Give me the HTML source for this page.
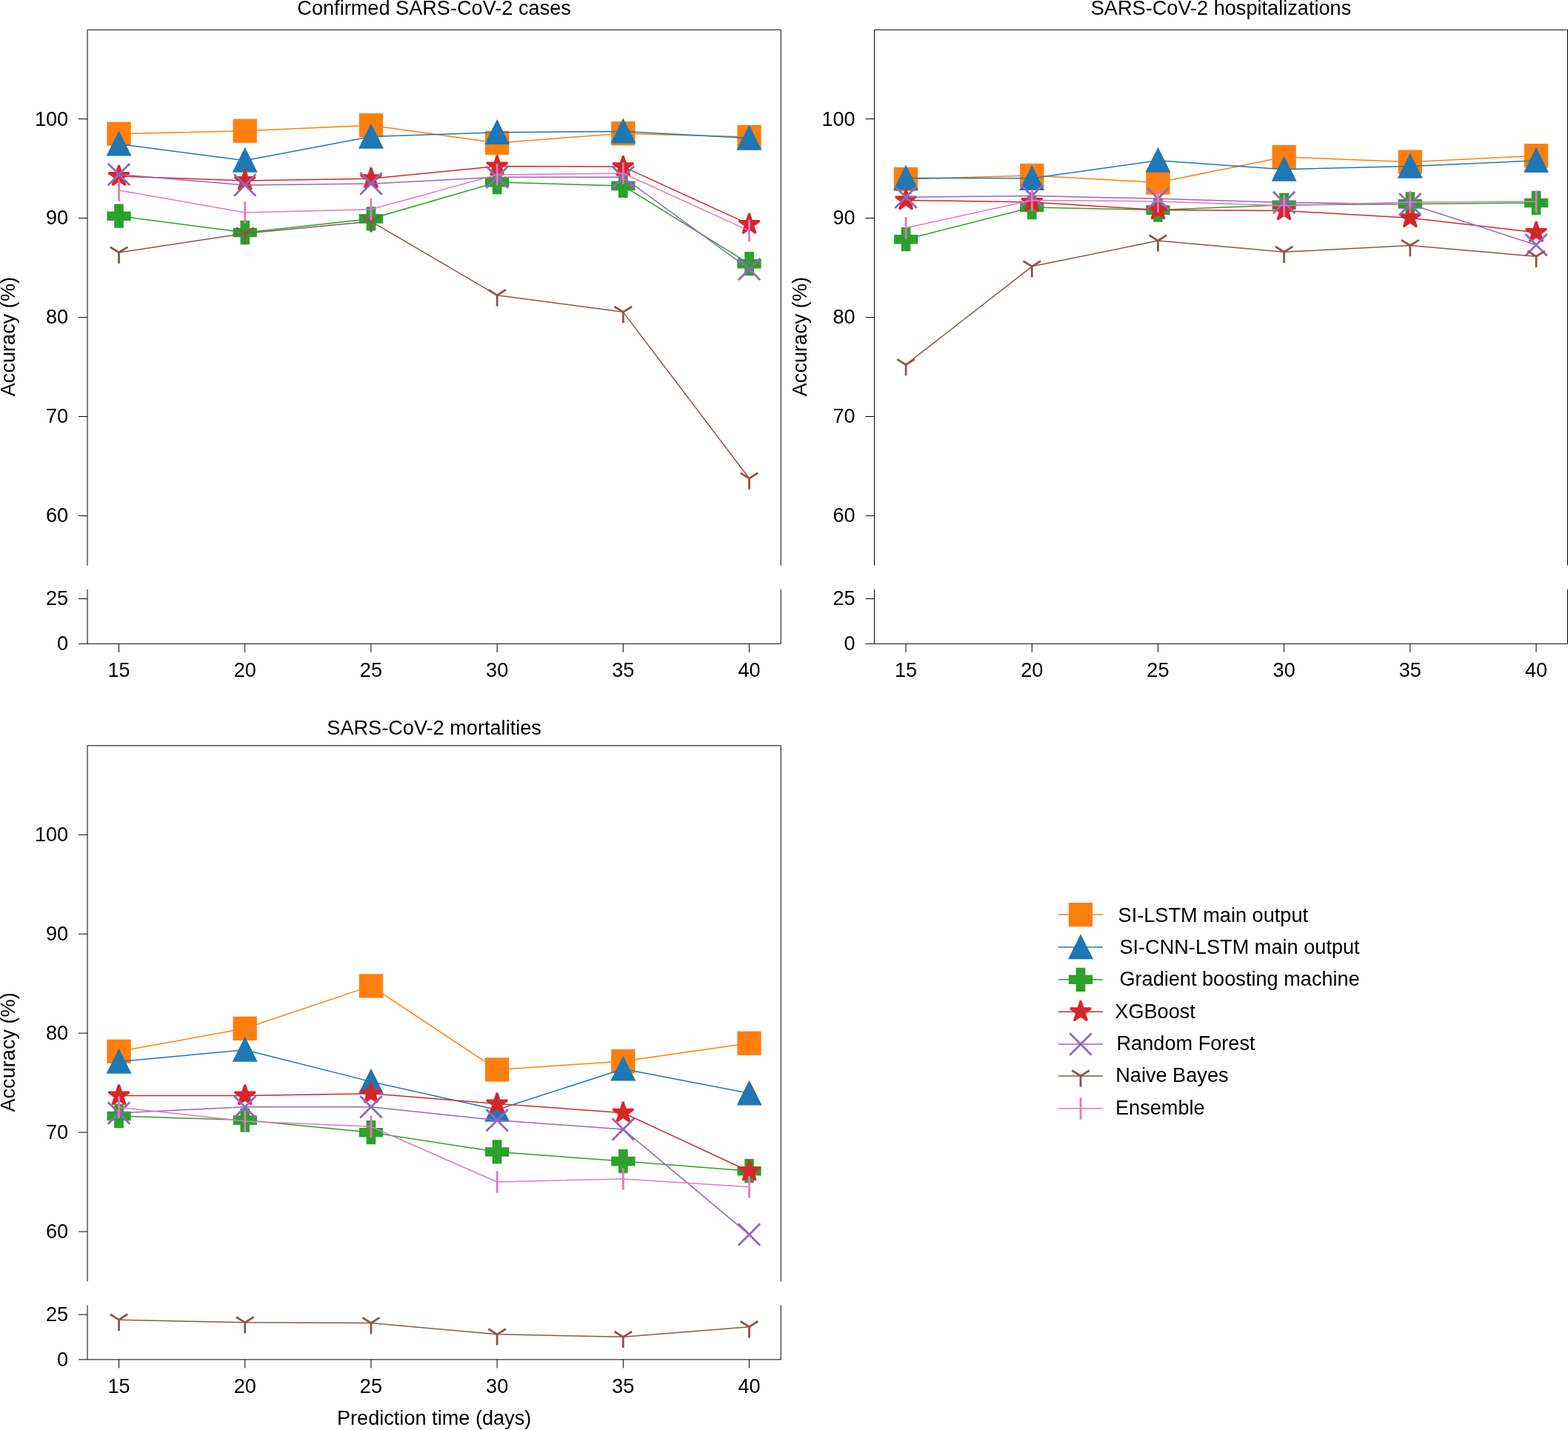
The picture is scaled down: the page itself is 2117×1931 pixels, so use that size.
<!DOCTYPE html>
<html><head><meta charset="utf-8"><title>Accuracy vs prediction time</title>
<style>html,body{margin:0;padding:0;background:#fff;overflow:hidden}svg{display:block}</style>
</head><body>
<svg width="2117" height="1931" viewBox="0 0 2117 1931">
<rect width="2117" height="1931" fill="#fff"/>
<g stroke="#000" stroke-width="1.0" fill="none" stroke-linecap="butt">
<path d="M118 763.7L118 40.25L1054.25 40.25L1054.25 763.7"/>
<path d="M118 796L118 869.28L1054.25 869.28L1054.25 796"/>
</g>
<g stroke="#000" stroke-width="1.0" fill="none">
<path d="M106 696.5H118"/>
<path d="M106 562.52H118"/>
<path d="M106 428.55H118"/>
<path d="M106 294.58H118"/>
<path d="M106 160.6H118"/>
<path d="M106 869.28H118"/>
<path d="M106 808.55H118"/>
<path d="M160.55 869.28V880.78"/>
<path d="M330.75 869.28V880.78"/>
<path d="M500.95 869.28V880.78"/>
<path d="M671.15 869.28V880.78"/>
<path d="M841.35 869.28V880.78"/>
<path d="M1011.55 869.28V880.78"/>
</g>
<g font-family="'Liberation Sans', Arial, Helvetica, sans-serif" font-size="27.15" fill="#000">
<text x="92.2" y="705.4" text-anchor="end">60</text>
<text x="92.2" y="571.42" text-anchor="end">70</text>
<text x="92.2" y="437.45" text-anchor="end">80</text>
<text x="92.2" y="303.48" text-anchor="end">90</text>
<text x="92.2" y="169.5" text-anchor="end">100</text>
<text x="92.2" y="878.18" text-anchor="end">0</text>
<text x="92.2" y="817.45" text-anchor="end">25</text>
<text x="160.55" y="913.9" text-anchor="middle">15</text>
<text x="330.75" y="913.9" text-anchor="middle">20</text>
<text x="500.95" y="913.9" text-anchor="middle">25</text>
<text x="671.15" y="913.9" text-anchor="middle">30</text>
<text x="841.35" y="913.9" text-anchor="middle">35</text>
<text x="1011.55" y="913.9" text-anchor="middle">40</text>
<text x="586.12" y="19.8" text-anchor="middle">Confirmed SARS-CoV-2 cases</text>
<text transform="translate(19.6 454.6) rotate(-90)" text-anchor="middle">Accuracy (%)</text>
</g>
<polyline points="160.55,180.8 330.75,176.7 500.95,169.2 671.15,192.9 841.35,180.2 1011.55,185" fill="none" stroke="#ff7f0e" stroke-width="1.5" stroke-linejoin="round" stroke-linecap="butt"/>
<rect x="145.8" y="166.05" width="29.5" height="29.5" fill="#ff7f0e" stroke="#ff7f0e" stroke-width="2.8" stroke-linejoin="miter"/>
<rect x="316" y="161.95" width="29.5" height="29.5" fill="#ff7f0e" stroke="#ff7f0e" stroke-width="2.8" stroke-linejoin="miter"/>
<rect x="486.2" y="154.45" width="29.5" height="29.5" fill="#ff7f0e" stroke="#ff7f0e" stroke-width="2.8" stroke-linejoin="miter"/>
<rect x="656.4" y="178.15" width="29.5" height="29.5" fill="#ff7f0e" stroke="#ff7f0e" stroke-width="2.8" stroke-linejoin="miter"/>
<rect x="826.6" y="165.45" width="29.5" height="29.5" fill="#ff7f0e" stroke="#ff7f0e" stroke-width="2.8" stroke-linejoin="miter"/>
<rect x="996.8" y="170.25" width="29.5" height="29.5" fill="#ff7f0e" stroke="#ff7f0e" stroke-width="2.8" stroke-linejoin="miter"/>
<polyline points="160.55,194.47 330.75,216.67 500.95,184.57 671.15,178.77 841.35,177.47 1011.55,186.62" fill="none" stroke="#1f77b4" stroke-width="1.5" stroke-linejoin="round" stroke-linecap="butt"/>
<polygon points="160.55,179.72 145.8,209.22 175.3,209.22" fill="#1f77b4" stroke="#1f77b4" stroke-width="2.8" stroke-linejoin="miter"/>
<polygon points="330.75,201.92 316,231.42 345.5,231.42" fill="#1f77b4" stroke="#1f77b4" stroke-width="2.8" stroke-linejoin="miter"/>
<polygon points="500.95,169.82 486.2,199.32 515.7,199.32" fill="#1f77b4" stroke="#1f77b4" stroke-width="2.8" stroke-linejoin="miter"/>
<polygon points="671.15,164.02 656.4,193.52 685.9,193.52" fill="#1f77b4" stroke="#1f77b4" stroke-width="2.8" stroke-linejoin="miter"/>
<polygon points="841.35,162.72 826.6,192.22 856.1,192.22" fill="#1f77b4" stroke="#1f77b4" stroke-width="2.8" stroke-linejoin="miter"/>
<polygon points="1011.55,171.87 996.8,201.37 1026.3,201.37" fill="#1f77b4" stroke="#1f77b4" stroke-width="2.8" stroke-linejoin="miter"/>
<polyline points="160.55,291.7 330.75,314 500.95,295.4 671.15,246.1 841.35,250.9 1011.55,356.2" fill="none" stroke="#2ca02c" stroke-width="1.5" stroke-linejoin="round" stroke-linecap="butt"/>
<polygon points="155.63,276.95 165.47,276.95 165.47,286.78 175.3,286.78 175.3,296.62 165.47,296.62 165.47,306.45 155.63,306.45 155.63,296.62 145.8,296.62 145.8,286.78 155.63,286.78" fill="#2ca02c" stroke="#2ca02c" stroke-width="2.8" stroke-linejoin="miter"/>
<polygon points="325.83,299.25 335.67,299.25 335.67,309.08 345.5,309.08 345.5,318.92 335.67,318.92 335.67,328.75 325.83,328.75 325.83,318.92 316,318.92 316,309.08 325.83,309.08" fill="#2ca02c" stroke="#2ca02c" stroke-width="2.8" stroke-linejoin="miter"/>
<polygon points="496.03,280.65 505.87,280.65 505.87,290.48 515.7,290.48 515.7,300.32 505.87,300.32 505.87,310.15 496.03,310.15 496.03,300.32 486.2,300.32 486.2,290.48 496.03,290.48" fill="#2ca02c" stroke="#2ca02c" stroke-width="2.8" stroke-linejoin="miter"/>
<polygon points="666.23,231.35 676.07,231.35 676.07,241.18 685.9,241.18 685.9,251.02 676.07,251.02 676.07,260.85 666.23,260.85 666.23,251.02 656.4,251.02 656.4,241.18 666.23,241.18" fill="#2ca02c" stroke="#2ca02c" stroke-width="2.8" stroke-linejoin="miter"/>
<polygon points="836.43,236.15 846.27,236.15 846.27,245.98 856.1,245.98 856.1,255.82 846.27,255.82 846.27,265.65 836.43,265.65 836.43,255.82 826.6,255.82 826.6,245.98 836.43,245.98" fill="#2ca02c" stroke="#2ca02c" stroke-width="2.8" stroke-linejoin="miter"/>
<polygon points="1006.63,341.45 1016.47,341.45 1016.47,351.28 1026.3,351.28 1026.3,361.12 1016.47,361.12 1016.47,370.95 1006.63,370.95 1006.63,361.12 996.8,361.12 996.8,351.28 1006.63,351.28" fill="#2ca02c" stroke="#2ca02c" stroke-width="2.8" stroke-linejoin="miter"/>
<polyline points="160.55,238 330.75,244 500.95,241.2 671.15,224.4 841.35,225.1 1011.55,302.9" fill="none" stroke="#d62728" stroke-width="1.5" stroke-linejoin="round" stroke-linecap="butt"/>
<polygon points="160.55,223.25 157.24,233.44 146.52,233.44 155.19,239.74 151.88,249.93 160.55,243.63 169.22,249.93 165.91,239.74 174.58,233.44 163.86,233.44" fill="#d62728" stroke="#d62728" stroke-width="2.8" stroke-linejoin="bevel"/>
<polygon points="330.75,229.25 327.44,239.44 316.72,239.44 325.39,245.74 322.08,255.93 330.75,249.63 339.42,255.93 336.11,245.74 344.78,239.44 334.06,239.44" fill="#d62728" stroke="#d62728" stroke-width="2.8" stroke-linejoin="bevel"/>
<polygon points="500.95,226.45 497.64,236.64 486.92,236.64 495.59,242.94 492.28,253.13 500.95,246.83 509.62,253.13 506.31,242.94 514.98,236.64 504.26,236.64" fill="#d62728" stroke="#d62728" stroke-width="2.8" stroke-linejoin="bevel"/>
<polygon points="671.15,209.65 667.84,219.84 657.12,219.84 665.79,226.14 662.48,236.33 671.15,230.03 679.82,236.33 676.51,226.14 685.18,219.84 674.46,219.84" fill="#d62728" stroke="#d62728" stroke-width="2.8" stroke-linejoin="bevel"/>
<polygon points="841.35,210.35 838.04,220.54 827.32,220.54 835.99,226.84 832.68,237.03 841.35,230.73 850.02,237.03 846.71,226.84 855.38,220.54 844.66,220.54" fill="#d62728" stroke="#d62728" stroke-width="2.8" stroke-linejoin="bevel"/>
<polygon points="1011.55,288.15 1008.24,298.34 997.52,298.34 1006.19,304.64 1002.88,314.83 1011.55,308.53 1020.22,314.83 1016.91,304.64 1025.58,298.34 1014.86,298.34" fill="#d62728" stroke="#d62728" stroke-width="2.8" stroke-linejoin="bevel"/>
<polyline points="160.55,235.6 330.75,250 500.95,248 671.15,239.3 841.35,239.3 1011.55,363.4" fill="none" stroke="#9467bd" stroke-width="1.5" stroke-linejoin="round" stroke-linecap="butt"/>
<path d="M145.8 220.85L175.3 250.35M145.8 250.35L175.3 220.85" stroke="#9467bd" stroke-width="2.8" fill="none" stroke-linecap="butt"/>
<path d="M316 235.25L345.5 264.75M316 264.75L345.5 235.25" stroke="#9467bd" stroke-width="2.8" fill="none" stroke-linecap="butt"/>
<path d="M486.2 233.25L515.7 262.75M486.2 262.75L515.7 233.25" stroke="#9467bd" stroke-width="2.8" fill="none" stroke-linecap="butt"/>
<path d="M656.4 224.55L685.9 254.05M656.4 254.05L685.9 224.55" stroke="#9467bd" stroke-width="2.8" fill="none" stroke-linecap="butt"/>
<path d="M826.6 224.55L856.1 254.05M826.6 254.05L856.1 224.55" stroke="#9467bd" stroke-width="2.8" fill="none" stroke-linecap="butt"/>
<path d="M996.8 348.65L1026.3 378.15M996.8 378.15L1026.3 348.65" stroke="#9467bd" stroke-width="2.8" fill="none" stroke-linecap="butt"/>
<polyline points="160.55,340.95 330.75,315.15 500.95,299.05 671.15,398.65 841.35,421.35 1011.55,645.95" fill="none" stroke="#8c564b" stroke-width="1.5" stroke-linejoin="round" stroke-linecap="butt"/>
<path d="M160.55 340.95L160.55 355.7M160.55 340.95L148.75 333.57M160.55 340.95L172.35 333.57" stroke="#8c564b" stroke-width="2.8" fill="none" stroke-linecap="butt" stroke-linejoin="miter"/>
<path d="M330.75 315.15L330.75 329.9M330.75 315.15L318.95 307.77M330.75 315.15L342.55 307.77" stroke="#8c564b" stroke-width="2.8" fill="none" stroke-linecap="butt" stroke-linejoin="miter"/>
<path d="M500.95 299.05L500.95 313.8M500.95 299.05L489.15 291.68M500.95 299.05L512.75 291.68" stroke="#8c564b" stroke-width="2.8" fill="none" stroke-linecap="butt" stroke-linejoin="miter"/>
<path d="M671.15 398.65L671.15 413.4M671.15 398.65L659.35 391.27M671.15 398.65L682.95 391.27" stroke="#8c564b" stroke-width="2.8" fill="none" stroke-linecap="butt" stroke-linejoin="miter"/>
<path d="M841.35 421.35L841.35 436.1M841.35 421.35L829.55 413.98M841.35 421.35L853.15 413.98" stroke="#8c564b" stroke-width="2.8" fill="none" stroke-linecap="butt" stroke-linejoin="miter"/>
<path d="M1011.55 645.95L1011.55 660.7M1011.55 645.95L999.75 638.58M1011.55 645.95L1023.35 638.58" stroke="#8c564b" stroke-width="2.8" fill="none" stroke-linecap="butt" stroke-linejoin="miter"/>
<polyline points="160.55,257 330.75,286.9 500.95,282.7 671.15,235.9 841.35,234 1011.55,311.6" fill="none" stroke="#e377c2" stroke-width="1.5" stroke-linejoin="round" stroke-linecap="butt"/>
<path d="M160.55 242.25L160.55 271.75" stroke="#e377c2" stroke-width="2.8" fill="none" stroke-linecap="butt"/>
<path d="M330.75 272.15L330.75 301.65" stroke="#e377c2" stroke-width="2.8" fill="none" stroke-linecap="butt"/>
<path d="M500.95 267.95L500.95 297.45" stroke="#e377c2" stroke-width="2.8" fill="none" stroke-linecap="butt"/>
<path d="M671.15 221.15L671.15 250.65" stroke="#e377c2" stroke-width="2.8" fill="none" stroke-linecap="butt"/>
<path d="M841.35 219.25L841.35 248.75" stroke="#e377c2" stroke-width="2.8" fill="none" stroke-linecap="butt"/>
<path d="M1011.55 296.85L1011.55 326.35" stroke="#e377c2" stroke-width="2.8" fill="none" stroke-linecap="butt"/>
<g stroke="#000" stroke-width="1.0" fill="none" stroke-linecap="butt">
<path d="M1180.5 763.7L1180.5 40.25L2116.5 40.25L2116.5 763.7"/>
<path d="M1180.5 796L1180.5 869.28L2116.5 869.28L2116.5 796"/>
</g>
<g stroke="#000" stroke-width="1.0" fill="none">
<path d="M1168.5 696.5H1180.5"/>
<path d="M1168.5 562.52H1180.5"/>
<path d="M1168.5 428.55H1180.5"/>
<path d="M1168.5 294.58H1180.5"/>
<path d="M1168.5 160.6H1180.5"/>
<path d="M1168.5 869.28H1180.5"/>
<path d="M1168.5 808.55H1180.5"/>
<path d="M1223.05 869.28V880.78"/>
<path d="M1393.25 869.28V880.78"/>
<path d="M1563.45 869.28V880.78"/>
<path d="M1733.65 869.28V880.78"/>
<path d="M1903.85 869.28V880.78"/>
<path d="M2074.05 869.28V880.78"/>
</g>
<g font-family="'Liberation Sans', Arial, Helvetica, sans-serif" font-size="27.15" fill="#000">
<text x="1154.7" y="705.4" text-anchor="end">60</text>
<text x="1154.7" y="571.42" text-anchor="end">70</text>
<text x="1154.7" y="437.45" text-anchor="end">80</text>
<text x="1154.7" y="303.48" text-anchor="end">90</text>
<text x="1154.7" y="169.5" text-anchor="end">100</text>
<text x="1154.7" y="878.18" text-anchor="end">0</text>
<text x="1154.7" y="817.45" text-anchor="end">25</text>
<text x="1223.05" y="913.9" text-anchor="middle">15</text>
<text x="1393.25" y="913.9" text-anchor="middle">20</text>
<text x="1563.45" y="913.9" text-anchor="middle">25</text>
<text x="1733.65" y="913.9" text-anchor="middle">30</text>
<text x="1903.85" y="913.9" text-anchor="middle">35</text>
<text x="2074.05" y="913.9" text-anchor="middle">40</text>
<text x="1648.5" y="19.8" text-anchor="middle">SARS-CoV-2 hospitalizations</text>
<text transform="translate(1088.8 454.6) rotate(-90)" text-anchor="middle">Accuracy (%)</text>
</g>
<polyline points="1223.05,241.9 1393.25,237 1563.45,246.5 1733.65,212 1903.85,218.65 2074.05,210.2" fill="none" stroke="#ff7f0e" stroke-width="1.5" stroke-linejoin="round" stroke-linecap="butt"/>
<rect x="1208.3" y="227.15" width="29.5" height="29.5" fill="#ff7f0e" stroke="#ff7f0e" stroke-width="2.8" stroke-linejoin="miter"/>
<rect x="1378.5" y="222.25" width="29.5" height="29.5" fill="#ff7f0e" stroke="#ff7f0e" stroke-width="2.8" stroke-linejoin="miter"/>
<rect x="1548.7" y="231.75" width="29.5" height="29.5" fill="#ff7f0e" stroke="#ff7f0e" stroke-width="2.8" stroke-linejoin="miter"/>
<rect x="1718.9" y="197.25" width="29.5" height="29.5" fill="#ff7f0e" stroke="#ff7f0e" stroke-width="2.8" stroke-linejoin="miter"/>
<rect x="1889.1" y="203.9" width="29.5" height="29.5" fill="#ff7f0e" stroke="#ff7f0e" stroke-width="2.8" stroke-linejoin="miter"/>
<rect x="2059.3" y="195.45" width="29.5" height="29.5" fill="#ff7f0e" stroke="#ff7f0e" stroke-width="2.8" stroke-linejoin="miter"/>
<polyline points="1223.05,240.47 1393.25,240.77 1563.45,216.67 1733.65,228.67 1903.85,224.57 2074.05,216.87" fill="none" stroke="#1f77b4" stroke-width="1.5" stroke-linejoin="round" stroke-linecap="butt"/>
<polygon points="1223.05,225.72 1208.3,255.22 1237.8,255.22" fill="#1f77b4" stroke="#1f77b4" stroke-width="2.8" stroke-linejoin="miter"/>
<polygon points="1393.25,226.02 1378.5,255.52 1408,255.52" fill="#1f77b4" stroke="#1f77b4" stroke-width="2.8" stroke-linejoin="miter"/>
<polygon points="1563.45,201.92 1548.7,231.42 1578.2,231.42" fill="#1f77b4" stroke="#1f77b4" stroke-width="2.8" stroke-linejoin="miter"/>
<polygon points="1733.65,213.92 1718.9,243.42 1748.4,243.42" fill="#1f77b4" stroke="#1f77b4" stroke-width="2.8" stroke-linejoin="miter"/>
<polygon points="1903.85,209.82 1889.1,239.32 1918.6,239.32" fill="#1f77b4" stroke="#1f77b4" stroke-width="2.8" stroke-linejoin="miter"/>
<polygon points="2074.05,202.12 2059.3,231.62 2088.8,231.62" fill="#1f77b4" stroke="#1f77b4" stroke-width="2.8" stroke-linejoin="miter"/>
<polyline points="1223.05,323.2 1393.25,280 1563.45,283.6 1733.65,276.8 1903.85,275.4 2074.05,274" fill="none" stroke="#2ca02c" stroke-width="1.5" stroke-linejoin="round" stroke-linecap="butt"/>
<polygon points="1218.13,308.45 1227.97,308.45 1227.97,318.28 1237.8,318.28 1237.8,328.12 1227.97,328.12 1227.97,337.95 1218.13,337.95 1218.13,328.12 1208.3,328.12 1208.3,318.28 1218.13,318.28" fill="#2ca02c" stroke="#2ca02c" stroke-width="2.8" stroke-linejoin="miter"/>
<polygon points="1388.33,265.25 1398.17,265.25 1398.17,275.08 1408,275.08 1408,284.92 1398.17,284.92 1398.17,294.75 1388.33,294.75 1388.33,284.92 1378.5,284.92 1378.5,275.08 1388.33,275.08" fill="#2ca02c" stroke="#2ca02c" stroke-width="2.8" stroke-linejoin="miter"/>
<polygon points="1558.53,268.85 1568.37,268.85 1568.37,278.68 1578.2,278.68 1578.2,288.52 1568.37,288.52 1568.37,298.35 1558.53,298.35 1558.53,288.52 1548.7,288.52 1548.7,278.68 1558.53,278.68" fill="#2ca02c" stroke="#2ca02c" stroke-width="2.8" stroke-linejoin="miter"/>
<polygon points="1728.73,262.05 1738.57,262.05 1738.57,271.88 1748.4,271.88 1748.4,281.72 1738.57,281.72 1738.57,291.55 1728.73,291.55 1728.73,281.72 1718.9,281.72 1718.9,271.88 1728.73,271.88" fill="#2ca02c" stroke="#2ca02c" stroke-width="2.8" stroke-linejoin="miter"/>
<polygon points="1898.93,260.65 1908.77,260.65 1908.77,270.48 1918.6,270.48 1918.6,280.32 1908.77,280.32 1908.77,290.15 1898.93,290.15 1898.93,280.32 1889.1,280.32 1889.1,270.48 1898.93,270.48" fill="#2ca02c" stroke="#2ca02c" stroke-width="2.8" stroke-linejoin="miter"/>
<polygon points="2069.13,259.25 2078.97,259.25 2078.97,269.08 2088.8,269.08 2088.8,278.92 2078.97,278.92 2078.97,288.75 2069.13,288.75 2069.13,278.92 2059.3,278.92 2059.3,269.08 2069.13,269.08" fill="#2ca02c" stroke="#2ca02c" stroke-width="2.8" stroke-linejoin="miter"/>
<polyline points="1223.05,270.4 1393.25,273 1563.45,283.5 1733.65,284.5 1903.85,294.2 2074.05,314" fill="none" stroke="#d62728" stroke-width="1.5" stroke-linejoin="round" stroke-linecap="butt"/>
<polygon points="1223.05,255.65 1219.74,265.84 1209.02,265.84 1217.69,272.14 1214.38,282.33 1223.05,276.03 1231.72,282.33 1228.41,272.14 1237.08,265.84 1226.36,265.84" fill="#d62728" stroke="#d62728" stroke-width="2.8" stroke-linejoin="bevel"/>
<polygon points="1393.25,258.25 1389.94,268.44 1379.22,268.44 1387.89,274.74 1384.58,284.93 1393.25,278.63 1401.92,284.93 1398.61,274.74 1407.28,268.44 1396.56,268.44" fill="#d62728" stroke="#d62728" stroke-width="2.8" stroke-linejoin="bevel"/>
<polygon points="1563.45,268.75 1560.14,278.94 1549.42,278.94 1558.09,285.24 1554.78,295.43 1563.45,289.13 1572.12,295.43 1568.81,285.24 1577.48,278.94 1566.76,278.94" fill="#d62728" stroke="#d62728" stroke-width="2.8" stroke-linejoin="bevel"/>
<polygon points="1733.65,269.75 1730.34,279.94 1719.62,279.94 1728.29,286.24 1724.98,296.43 1733.65,290.13 1742.32,296.43 1739.01,286.24 1747.68,279.94 1736.96,279.94" fill="#d62728" stroke="#d62728" stroke-width="2.8" stroke-linejoin="bevel"/>
<polygon points="1903.85,279.45 1900.54,289.64 1889.82,289.64 1898.49,295.94 1895.18,306.13 1903.85,299.83 1912.52,306.13 1909.21,295.94 1917.88,289.64 1907.16,289.64" fill="#d62728" stroke="#d62728" stroke-width="2.8" stroke-linejoin="bevel"/>
<polygon points="2074.05,299.25 2070.74,309.44 2060.02,309.44 2068.69,315.74 2065.38,325.93 2074.05,319.63 2082.72,325.93 2079.41,315.74 2088.08,309.44 2077.36,309.44" fill="#d62728" stroke="#d62728" stroke-width="2.8" stroke-linejoin="bevel"/>
<polyline points="1223.05,266.3 1393.25,264.6 1563.45,268.2 1733.65,273.4 1903.85,275.7 2074.05,330.8" fill="none" stroke="#9467bd" stroke-width="1.5" stroke-linejoin="round" stroke-linecap="butt"/>
<path d="M1208.3 251.55L1237.8 281.05M1208.3 281.05L1237.8 251.55" stroke="#9467bd" stroke-width="2.8" fill="none" stroke-linecap="butt"/>
<path d="M1378.5 249.85L1408 279.35M1378.5 279.35L1408 249.85" stroke="#9467bd" stroke-width="2.8" fill="none" stroke-linecap="butt"/>
<path d="M1548.7 253.45L1578.2 282.95M1548.7 282.95L1578.2 253.45" stroke="#9467bd" stroke-width="2.8" fill="none" stroke-linecap="butt"/>
<path d="M1718.9 258.65L1748.4 288.15M1718.9 288.15L1748.4 258.65" stroke="#9467bd" stroke-width="2.8" fill="none" stroke-linecap="butt"/>
<path d="M1889.1 260.95L1918.6 290.45M1889.1 290.45L1918.6 260.95" stroke="#9467bd" stroke-width="2.8" fill="none" stroke-linecap="butt"/>
<path d="M2059.3 316.05L2088.8 345.55M2059.3 345.55L2088.8 316.05" stroke="#9467bd" stroke-width="2.8" fill="none" stroke-linecap="butt"/>
<polyline points="1223.05,492.45 1393.25,359.85 1563.45,325.05 1733.65,340.25 1903.85,331.55 2074.05,346.3" fill="none" stroke="#8c564b" stroke-width="1.5" stroke-linejoin="round" stroke-linecap="butt"/>
<path d="M1223.05 492.45L1223.05 507.2M1223.05 492.45L1211.25 485.07M1223.05 492.45L1234.85 485.07" stroke="#8c564b" stroke-width="2.8" fill="none" stroke-linecap="butt" stroke-linejoin="miter"/>
<path d="M1393.25 359.85L1393.25 374.6M1393.25 359.85L1381.45 352.48M1393.25 359.85L1405.05 352.48" stroke="#8c564b" stroke-width="2.8" fill="none" stroke-linecap="butt" stroke-linejoin="miter"/>
<path d="M1563.45 325.05L1563.45 339.8M1563.45 325.05L1551.65 317.68M1563.45 325.05L1575.25 317.68" stroke="#8c564b" stroke-width="2.8" fill="none" stroke-linecap="butt" stroke-linejoin="miter"/>
<path d="M1733.65 340.25L1733.65 355M1733.65 340.25L1721.85 332.88M1733.65 340.25L1745.45 332.88" stroke="#8c564b" stroke-width="2.8" fill="none" stroke-linecap="butt" stroke-linejoin="miter"/>
<path d="M1903.85 331.55L1903.85 346.3M1903.85 331.55L1892.05 324.18M1903.85 331.55L1915.65 324.18" stroke="#8c564b" stroke-width="2.8" fill="none" stroke-linecap="butt" stroke-linejoin="miter"/>
<path d="M2074.05 346.3L2074.05 361.05M2074.05 346.3L2062.25 338.93M2074.05 346.3L2085.85 338.93" stroke="#8c564b" stroke-width="2.8" fill="none" stroke-linecap="butt" stroke-linejoin="miter"/>
<polyline points="1223.05,307.7 1393.25,270.5 1563.45,271.9 1733.65,277.8 1903.85,272.9 2074.05,272.2" fill="none" stroke="#e377c2" stroke-width="1.5" stroke-linejoin="round" stroke-linecap="butt"/>
<path d="M1223.05 292.95L1223.05 322.45" stroke="#e377c2" stroke-width="2.8" fill="none" stroke-linecap="butt"/>
<path d="M1393.25 255.75L1393.25 285.25" stroke="#e377c2" stroke-width="2.8" fill="none" stroke-linecap="butt"/>
<path d="M1563.45 257.15L1563.45 286.65" stroke="#e377c2" stroke-width="2.8" fill="none" stroke-linecap="butt"/>
<path d="M1733.65 263.05L1733.65 292.55" stroke="#e377c2" stroke-width="2.8" fill="none" stroke-linecap="butt"/>
<path d="M1903.85 258.15L1903.85 287.65" stroke="#e377c2" stroke-width="2.8" fill="none" stroke-linecap="butt"/>
<path d="M2074.05 257.45L2074.05 286.95" stroke="#e377c2" stroke-width="2.8" fill="none" stroke-linecap="butt"/>
<g stroke="#000" stroke-width="1.0" fill="none" stroke-linecap="butt">
<path d="M118 1730.3L118 1006.85L1054.25 1006.85L1054.25 1730.3"/>
<path d="M118 1762.6L118 1835.88L1054.25 1835.88L1054.25 1762.6"/>
</g>
<g stroke="#000" stroke-width="1.0" fill="none">
<path d="M106 1663.1H118"/>
<path d="M106 1529.12H118"/>
<path d="M106 1395.15H118"/>
<path d="M106 1261.18H118"/>
<path d="M106 1127.2H118"/>
<path d="M106 1835.88H118"/>
<path d="M106 1775.15H118"/>
<path d="M160.55 1835.88V1847.38"/>
<path d="M330.75 1835.88V1847.38"/>
<path d="M500.95 1835.88V1847.38"/>
<path d="M671.15 1835.88V1847.38"/>
<path d="M841.35 1835.88V1847.38"/>
<path d="M1011.55 1835.88V1847.38"/>
</g>
<g font-family="'Liberation Sans', Arial, Helvetica, sans-serif" font-size="27.15" fill="#000">
<text x="92.2" y="1672" text-anchor="end">60</text>
<text x="92.2" y="1538.03" text-anchor="end">70</text>
<text x="92.2" y="1404.05" text-anchor="end">80</text>
<text x="92.2" y="1270.08" text-anchor="end">90</text>
<text x="92.2" y="1136.1" text-anchor="end">100</text>
<text x="92.2" y="1844.78" text-anchor="end">0</text>
<text x="92.2" y="1784.06" text-anchor="end">25</text>
<text x="160.55" y="1880.5" text-anchor="middle">15</text>
<text x="330.75" y="1880.5" text-anchor="middle">20</text>
<text x="500.95" y="1880.5" text-anchor="middle">25</text>
<text x="671.15" y="1880.5" text-anchor="middle">30</text>
<text x="841.35" y="1880.5" text-anchor="middle">35</text>
<text x="1011.55" y="1880.5" text-anchor="middle">40</text>
<text x="586.12" y="992.4" text-anchor="middle">SARS-CoV-2 mortalities</text>
<text transform="translate(19.6 1420.9) rotate(-90)" text-anchor="middle">Accuracy (%)</text>
<text x="586.12" y="1924" text-anchor="middle">Prediction time (days)</text>
</g>
<polyline points="160.55,1419.85 330.75,1388.8 500.95,1331.4 671.15,1444.4 841.35,1433.1 1011.55,1408.7" fill="none" stroke="#ff7f0e" stroke-width="1.5" stroke-linejoin="round" stroke-linecap="butt"/>
<rect x="145.8" y="1405.1" width="29.5" height="29.5" fill="#ff7f0e" stroke="#ff7f0e" stroke-width="2.8" stroke-linejoin="miter"/>
<rect x="316" y="1374.05" width="29.5" height="29.5" fill="#ff7f0e" stroke="#ff7f0e" stroke-width="2.8" stroke-linejoin="miter"/>
<rect x="486.2" y="1316.65" width="29.5" height="29.5" fill="#ff7f0e" stroke="#ff7f0e" stroke-width="2.8" stroke-linejoin="miter"/>
<rect x="656.4" y="1429.65" width="29.5" height="29.5" fill="#ff7f0e" stroke="#ff7f0e" stroke-width="2.8" stroke-linejoin="miter"/>
<rect x="826.6" y="1418.35" width="29.5" height="29.5" fill="#ff7f0e" stroke="#ff7f0e" stroke-width="2.8" stroke-linejoin="miter"/>
<rect x="996.8" y="1393.95" width="29.5" height="29.5" fill="#ff7f0e" stroke="#ff7f0e" stroke-width="2.8" stroke-linejoin="miter"/>
<polyline points="160.55,1433.62 330.75,1417.67 500.95,1460.62 671.15,1498.57 841.35,1443.47 1011.55,1476.27" fill="none" stroke="#1f77b4" stroke-width="1.5" stroke-linejoin="round" stroke-linecap="butt"/>
<polygon points="160.55,1418.87 145.8,1448.37 175.3,1448.37" fill="#1f77b4" stroke="#1f77b4" stroke-width="2.8" stroke-linejoin="miter"/>
<polygon points="330.75,1402.92 316,1432.42 345.5,1432.42" fill="#1f77b4" stroke="#1f77b4" stroke-width="2.8" stroke-linejoin="miter"/>
<polygon points="500.95,1445.87 486.2,1475.37 515.7,1475.37" fill="#1f77b4" stroke="#1f77b4" stroke-width="2.8" stroke-linejoin="miter"/>
<polygon points="671.15,1483.82 656.4,1513.32 685.9,1513.32" fill="#1f77b4" stroke="#1f77b4" stroke-width="2.8" stroke-linejoin="miter"/>
<polygon points="841.35,1428.72 826.6,1458.22 856.1,1458.22" fill="#1f77b4" stroke="#1f77b4" stroke-width="2.8" stroke-linejoin="miter"/>
<polygon points="1011.55,1461.52 996.8,1491.02 1026.3,1491.02" fill="#1f77b4" stroke="#1f77b4" stroke-width="2.8" stroke-linejoin="miter"/>
<polyline points="160.55,1507 330.75,1512.6 500.95,1529.2 671.15,1555.45 841.35,1568.1 1011.55,1581.2" fill="none" stroke="#2ca02c" stroke-width="1.5" stroke-linejoin="round" stroke-linecap="butt"/>
<polygon points="155.63,1492.25 165.47,1492.25 165.47,1502.08 175.3,1502.08 175.3,1511.92 165.47,1511.92 165.47,1521.75 155.63,1521.75 155.63,1511.92 145.8,1511.92 145.8,1502.08 155.63,1502.08" fill="#2ca02c" stroke="#2ca02c" stroke-width="2.8" stroke-linejoin="miter"/>
<polygon points="325.83,1497.85 335.67,1497.85 335.67,1507.68 345.5,1507.68 345.5,1517.52 335.67,1517.52 335.67,1527.35 325.83,1527.35 325.83,1517.52 316,1517.52 316,1507.68 325.83,1507.68" fill="#2ca02c" stroke="#2ca02c" stroke-width="2.8" stroke-linejoin="miter"/>
<polygon points="496.03,1514.45 505.87,1514.45 505.87,1524.28 515.7,1524.28 515.7,1534.12 505.87,1534.12 505.87,1543.95 496.03,1543.95 496.03,1534.12 486.2,1534.12 486.2,1524.28 496.03,1524.28" fill="#2ca02c" stroke="#2ca02c" stroke-width="2.8" stroke-linejoin="miter"/>
<polygon points="666.23,1540.7 676.07,1540.7 676.07,1550.53 685.9,1550.53 685.9,1560.37 676.07,1560.37 676.07,1570.2 666.23,1570.2 666.23,1560.37 656.4,1560.37 656.4,1550.53 666.23,1550.53" fill="#2ca02c" stroke="#2ca02c" stroke-width="2.8" stroke-linejoin="miter"/>
<polygon points="836.43,1553.35 846.27,1553.35 846.27,1563.18 856.1,1563.18 856.1,1573.02 846.27,1573.02 846.27,1582.85 836.43,1582.85 836.43,1573.02 826.6,1573.02 826.6,1563.18 836.43,1563.18" fill="#2ca02c" stroke="#2ca02c" stroke-width="2.8" stroke-linejoin="miter"/>
<polygon points="1006.63,1566.45 1016.47,1566.45 1016.47,1576.28 1026.3,1576.28 1026.3,1586.12 1016.47,1586.12 1016.47,1595.95 1006.63,1595.95 1006.63,1586.12 996.8,1586.12 996.8,1576.28 1006.63,1576.28" fill="#2ca02c" stroke="#2ca02c" stroke-width="2.8" stroke-linejoin="miter"/>
<polyline points="160.55,1479.4 330.75,1479.4 500.95,1476.7 671.15,1490.4 841.35,1502.7 1011.55,1581.7" fill="none" stroke="#d62728" stroke-width="1.5" stroke-linejoin="round" stroke-linecap="butt"/>
<polygon points="160.55,1464.65 157.24,1474.84 146.52,1474.84 155.19,1481.14 151.88,1491.33 160.55,1485.03 169.22,1491.33 165.91,1481.14 174.58,1474.84 163.86,1474.84" fill="#d62728" stroke="#d62728" stroke-width="2.8" stroke-linejoin="bevel"/>
<polygon points="330.75,1464.65 327.44,1474.84 316.72,1474.84 325.39,1481.14 322.08,1491.33 330.75,1485.03 339.42,1491.33 336.11,1481.14 344.78,1474.84 334.06,1474.84" fill="#d62728" stroke="#d62728" stroke-width="2.8" stroke-linejoin="bevel"/>
<polygon points="500.95,1461.95 497.64,1472.14 486.92,1472.14 495.59,1478.44 492.28,1488.63 500.95,1482.33 509.62,1488.63 506.31,1478.44 514.98,1472.14 504.26,1472.14" fill="#d62728" stroke="#d62728" stroke-width="2.8" stroke-linejoin="bevel"/>
<polygon points="671.15,1475.65 667.84,1485.84 657.12,1485.84 665.79,1492.14 662.48,1502.33 671.15,1496.03 679.82,1502.33 676.51,1492.14 685.18,1485.84 674.46,1485.84" fill="#d62728" stroke="#d62728" stroke-width="2.8" stroke-linejoin="bevel"/>
<polygon points="841.35,1487.95 838.04,1498.14 827.32,1498.14 835.99,1504.44 832.68,1514.63 841.35,1508.33 850.02,1514.63 846.71,1504.44 855.38,1498.14 844.66,1498.14" fill="#d62728" stroke="#d62728" stroke-width="2.8" stroke-linejoin="bevel"/>
<polygon points="1011.55,1566.95 1008.24,1577.14 997.52,1577.14 1006.19,1583.44 1002.88,1593.63 1011.55,1587.33 1020.22,1593.63 1016.91,1583.44 1025.58,1577.14 1014.86,1577.14" fill="#d62728" stroke="#d62728" stroke-width="2.8" stroke-linejoin="bevel"/>
<polyline points="160.55,1502.9 330.75,1494.8 500.95,1494.8 671.15,1512.8 841.35,1524.9 1011.55,1667.1" fill="none" stroke="#9467bd" stroke-width="1.5" stroke-linejoin="round" stroke-linecap="butt"/>
<path d="M145.8 1488.15L175.3 1517.65M145.8 1517.65L175.3 1488.15" stroke="#9467bd" stroke-width="2.8" fill="none" stroke-linecap="butt"/>
<path d="M316 1480.05L345.5 1509.55M316 1509.55L345.5 1480.05" stroke="#9467bd" stroke-width="2.8" fill="none" stroke-linecap="butt"/>
<path d="M486.2 1480.05L515.7 1509.55M486.2 1509.55L515.7 1480.05" stroke="#9467bd" stroke-width="2.8" fill="none" stroke-linecap="butt"/>
<path d="M656.4 1498.05L685.9 1527.55M656.4 1527.55L685.9 1498.05" stroke="#9467bd" stroke-width="2.8" fill="none" stroke-linecap="butt"/>
<path d="M826.6 1510.15L856.1 1539.65M826.6 1539.65L856.1 1510.15" stroke="#9467bd" stroke-width="2.8" fill="none" stroke-linecap="butt"/>
<path d="M996.8 1652.35L1026.3 1681.85M996.8 1681.85L1026.3 1652.35" stroke="#9467bd" stroke-width="2.8" fill="none" stroke-linecap="butt"/>
<polyline points="160.55,1782.15 330.75,1785.85 500.95,1786.55 671.15,1801.85 841.35,1805.35 1011.55,1791.65" fill="none" stroke="#8c564b" stroke-width="1.5" stroke-linejoin="round" stroke-linecap="butt"/>
<path d="M160.55 1782.15L160.55 1796.9M160.55 1782.15L148.75 1774.78M160.55 1782.15L172.35 1774.78" stroke="#8c564b" stroke-width="2.8" fill="none" stroke-linecap="butt" stroke-linejoin="miter"/>
<path d="M330.75 1785.85L330.75 1800.6M330.75 1785.85L318.95 1778.47M330.75 1785.85L342.55 1778.47" stroke="#8c564b" stroke-width="2.8" fill="none" stroke-linecap="butt" stroke-linejoin="miter"/>
<path d="M500.95 1786.55L500.95 1801.3M500.95 1786.55L489.15 1779.17M500.95 1786.55L512.75 1779.17" stroke="#8c564b" stroke-width="2.8" fill="none" stroke-linecap="butt" stroke-linejoin="miter"/>
<path d="M671.15 1801.85L671.15 1816.6M671.15 1801.85L659.35 1794.47M671.15 1801.85L682.95 1794.47" stroke="#8c564b" stroke-width="2.8" fill="none" stroke-linecap="butt" stroke-linejoin="miter"/>
<path d="M841.35 1805.35L841.35 1820.1M841.35 1805.35L829.55 1797.97M841.35 1805.35L853.15 1797.97" stroke="#8c564b" stroke-width="2.8" fill="none" stroke-linecap="butt" stroke-linejoin="miter"/>
<path d="M1011.55 1791.65L1011.55 1806.4M1011.55 1791.65L999.75 1784.28M1011.55 1791.65L1023.35 1784.28" stroke="#8c564b" stroke-width="2.8" fill="none" stroke-linecap="butt" stroke-linejoin="miter"/>
<polyline points="160.55,1495.3 330.75,1513.9 500.95,1521.3 671.15,1596 841.35,1591.9 1011.55,1602.8" fill="none" stroke="#e377c2" stroke-width="1.5" stroke-linejoin="round" stroke-linecap="butt"/>
<path d="M160.55 1480.55L160.55 1510.05" stroke="#e377c2" stroke-width="2.8" fill="none" stroke-linecap="butt"/>
<path d="M330.75 1499.15L330.75 1528.65" stroke="#e377c2" stroke-width="2.8" fill="none" stroke-linecap="butt"/>
<path d="M500.95 1506.55L500.95 1536.05" stroke="#e377c2" stroke-width="2.8" fill="none" stroke-linecap="butt"/>
<path d="M671.15 1581.25L671.15 1610.75" stroke="#e377c2" stroke-width="2.8" fill="none" stroke-linecap="butt"/>
<path d="M841.35 1577.15L841.35 1606.65" stroke="#e377c2" stroke-width="2.8" fill="none" stroke-linecap="butt"/>
<path d="M1011.55 1588.05L1011.55 1617.55" stroke="#e377c2" stroke-width="2.8" fill="none" stroke-linecap="butt"/>
<path d="M1428.7 1235.1H1489.1" stroke="#ff7f0e" stroke-width="1.5"/>
<rect x="1444.25" y="1220.35" width="29.5" height="29.5" fill="#ff7f0e" stroke="#ff7f0e" stroke-width="2.8" stroke-linejoin="miter"/>
<path d="M1428.7 1279H1489.1" stroke="#1f77b4" stroke-width="1.5"/>
<polygon points="1459,1264.45 1444.25,1293.95 1473.75,1293.95" fill="#1f77b4" stroke="#1f77b4" stroke-width="2.8" stroke-linejoin="miter"/>
<path d="M1428.7 1322.8H1489.1" stroke="#2ca02c" stroke-width="1.5"/>
<polygon points="1454.08,1308.05 1463.92,1308.05 1463.92,1317.88 1473.75,1317.88 1473.75,1327.72 1463.92,1327.72 1463.92,1337.55 1454.08,1337.55 1454.08,1327.72 1444.25,1327.72 1444.25,1317.88 1454.08,1317.88" fill="#2ca02c" stroke="#2ca02c" stroke-width="2.8" stroke-linejoin="miter"/>
<path d="M1428.7 1366.3H1489.1" stroke="#d62728" stroke-width="1.5"/>
<polygon points="1459,1351.55 1455.69,1361.74 1444.97,1361.74 1453.64,1368.04 1450.33,1378.23 1459,1371.93 1467.67,1378.23 1464.36,1368.04 1473.03,1361.74 1462.31,1361.74" fill="#d62728" stroke="#d62728" stroke-width="2.8" stroke-linejoin="bevel"/>
<path d="M1428.7 1409.9H1489.1" stroke="#9467bd" stroke-width="1.5"/>
<path d="M1444.25 1395.15L1473.75 1424.65M1444.25 1424.65L1473.75 1395.15" stroke="#9467bd" stroke-width="2.8" fill="none" stroke-linecap="butt"/>
<path d="M1428.7 1452.9H1489.1" stroke="#8c564b" stroke-width="1.5"/>
<path d="M1459 1452.9L1459 1467.65M1459 1452.9L1447.2 1445.53M1459 1452.9L1470.8 1445.53" stroke="#8c564b" stroke-width="2.8" fill="none" stroke-linecap="butt" stroke-linejoin="miter"/>
<path d="M1428.7 1496.8H1489.1" stroke="#e377c2" stroke-width="1.5"/>
<path d="M1459 1482.05L1459 1511.55" stroke="#e377c2" stroke-width="2.8" fill="none" stroke-linecap="butt"/>
<g font-family="'Liberation Sans', Arial, Helvetica, sans-serif" font-size="27.15" fill="#000">
<text x="1509.6" y="1244.5" text-anchor="start">SI-LSTM main output</text>
<text x="1511.4" y="1287.9" text-anchor="start">SI-CNN-LSTM main output</text>
<text x="1511.4" y="1331.1" text-anchor="start">Gradient boosting machine</text>
<text x="1505.3" y="1374.7" text-anchor="start">XGBoost</text>
<text x="1507.5" y="1418.2" text-anchor="start">Random Forest</text>
<text x="1506.2" y="1461.3" text-anchor="start">Naive Bayes</text>
<text x="1506" y="1505" text-anchor="start">Ensemble</text>
</g>
</svg>
</body></html>
